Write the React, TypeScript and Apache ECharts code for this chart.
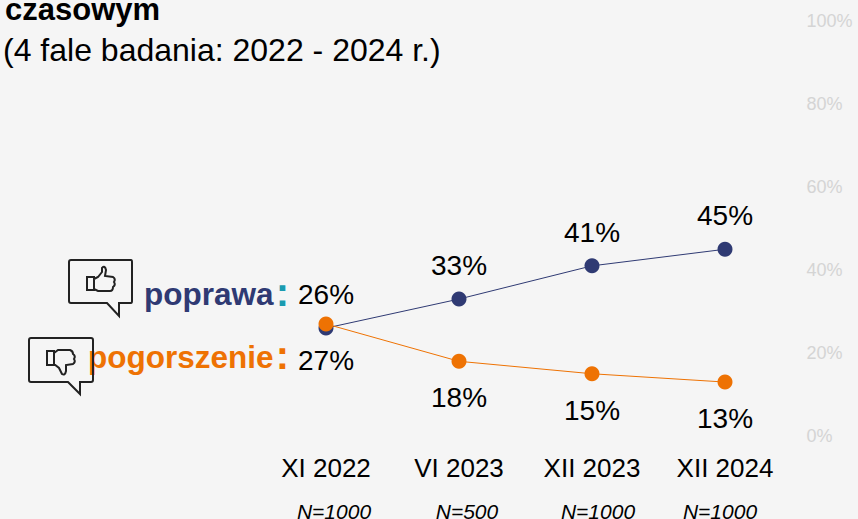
import React, { useEffect, useRef } from "react";
import * as echarts from "echarts";

const categories = ["XI 2022", "VI 2023", "XII 2023", "XII 2024"];
const sampleLabels = ["N=1000", "N=500", "N=1000", "N=1000"];
const improved = [26, 33, 41, 45];
const worsened = [27, 18, 15, 13];
const yTicks = [0, 20, 40, 60, 80, 100];

const FONT = '"Liberation Sans", Arial, sans-serif';
const BLUE = "#2f3a73";
const ORANGE = "#ee7203";
const sampleX = [334, 467, 598, 720];

echarts.graphic.registerShape(
  "bubbleUp",
  echarts.graphic.extendPath(
    "M71 260 L131 260 Q132 260 132 262 L132 301 Q132 303 131 303 L119 303 L119 316 L107 303 L71 303 Q69 303 69 301 L69 262 Q69 260 71 260 Z",
    {}
  )
);
echarts.graphic.registerShape(
  "bubbleDown",
  echarts.graphic.extendPath(
    "M31 338 L91 338 Q93 338 93 340 L93 380 Q93 382 91 382 L80 382 L80 394 L68 382 L31 382 Q29 382 29 380 L29 340 Q29 338 31 338 Z",
    {}
  )
);
echarts.graphic.registerShape(
  "thumbUp",
  echarts.graphic.extendPath(
    "M87 277 L94 277 L94 290 L87 290 Z M94 279 L98 277 L102 272 L102 268 Q105 265 106 270 L105 276 L113 277 Q116 279 114 282 Q116 285 113 287 Q113 291 110 291 L98 291 L94 289",
    {}
  )
);
echarts.graphic.registerShape(
  "thumbDown",
  echarts.graphic.extendPath(
    "M47 351 L54 351 L54 365 L47 365 Z M54 353 L58 350 L70 350 Q73 351 73 354 Q76 356 74 359 Q76 362 73 364 L66 365 L66 371 Q65 376 62 374 L59 368 L54 364",
    {}
  )
);

export default function App() {
  const ref = useRef<HTMLDivElement>(null);
  useEffect(() => {
    document.body.style.margin = "0";
    document.body.style.background = "#f5f5f5";
    const chart = echarts.init(ref.current!, undefined, { renderer: "svg" });
    const text = (t: string, x: number, y: number, style: any) => ({
      type: "text",
      x,
      y,
      silent: true,
      style: { text: t, fontFamily: FONT, verticalAlign: "middle", ...style },
    });
    const outline = { fill: "none", stroke: "#222222", lineWidth: 2 };
    const thin = { fill: "none", stroke: "#222222", lineWidth: 2 };
    chart.setOption({
      animation: false,
      backgroundColor: "#f5f5f5",
      grid: { left: 259.5, right: 66.5, top: 21, bottom: 83 },
      xAxis: {
        type: "category",
        data: categories,
        axisLine: { show: false },
        axisTick: { show: false },
        axisLabel: { color: "#000000", fontSize: 26, fontFamily: FONT, margin: 19 },
      },
      yAxis: {
        type: "value",
        position: "right",
        min: 0,
        max: 100,
        interval: yTicks[1] - yTicks[0],
        splitLine: { show: false },
        axisLine: { show: false },
        axisTick: { show: false },
        axisLabel: {
          color: "#d4d4d4",
          fontSize: 18,
          fontFamily: FONT,
          margin: 15,
          formatter: "{value}%",
        },
      },
      series: [
        {
          name: "poprawa",
          type: "line",
          data: improved,
          symbol: "circle",
          symbolSize: 15,
          z: 2,
          lineStyle: { color: BLUE, width: 1 },
          itemStyle: { color: BLUE },
          label: {
            show: true,
            position: "top",
            distance: 12,
            formatter: "{c}%",
            color: "#000000",
            fontSize: 28,
            fontFamily: FONT,
          },
        },
        {
          name: "pogorszenie",
          type: "line",
          data: worsened,
          symbol: "circle",
          symbolSize: 15,
          z: 3,
          lineStyle: { color: ORANGE, width: 1 },
          itemStyle: { color: ORANGE },
          label: {
            show: true,
            position: "bottom",
            distance: 15,
            formatter: "{c}%",
            color: "#000000",
            fontSize: 28,
            fontFamily: FONT,
          },
        },
      ],
      graphic: [
        text("czasowym", 5, 9, { fontSize: 31, fontWeight: "bold", fill: "#000000", lineHeight: 18 }),
        text("(4 fale badania: 2022 - 2024 r.)", 3, 50, { fontSize: 32, fill: "#000000" }),
        text("poprawa", 144, 294, { fontSize: 31.5, fontWeight: "bold", fill: BLUE }),
        text(":", 282.5, 292, { fontSize: 40, fontWeight: "bold", fill: "#1a9bb0", textAlign: "center" }),
        text("pogorszenie", 88, 357, { fontSize: 31.5, fontWeight: "bold", fill: ORANGE }),
        text(":", 282.5, 355, { fontSize: 40, fontWeight: "bold", fill: ORANGE, textAlign: "center" }),
        ...sampleLabels.map((s, i) =>
          text(s, sampleX[i], 511, {
            fontSize: 21,
            fontStyle: "italic",
            fill: "#000000",
            textAlign: "center",
            lineHeight: 14,
          })
        ),
        { type: "bubbleUp", x: 0, y: 0, silent: true, style: outline },
        { type: "bubbleDown", x: 0, y: 0, silent: true, style: outline },
        { type: "thumbUp", x: 0, y: 0, silent: true, style: thin },
        { type: "thumbDown", x: 0, y: 0, silent: true, style: thin },
      ],
    });
    return () => chart.dispose();
  }, []);
  return <div ref={ref} style={{ width: 858, height: 519 }} />;
}
